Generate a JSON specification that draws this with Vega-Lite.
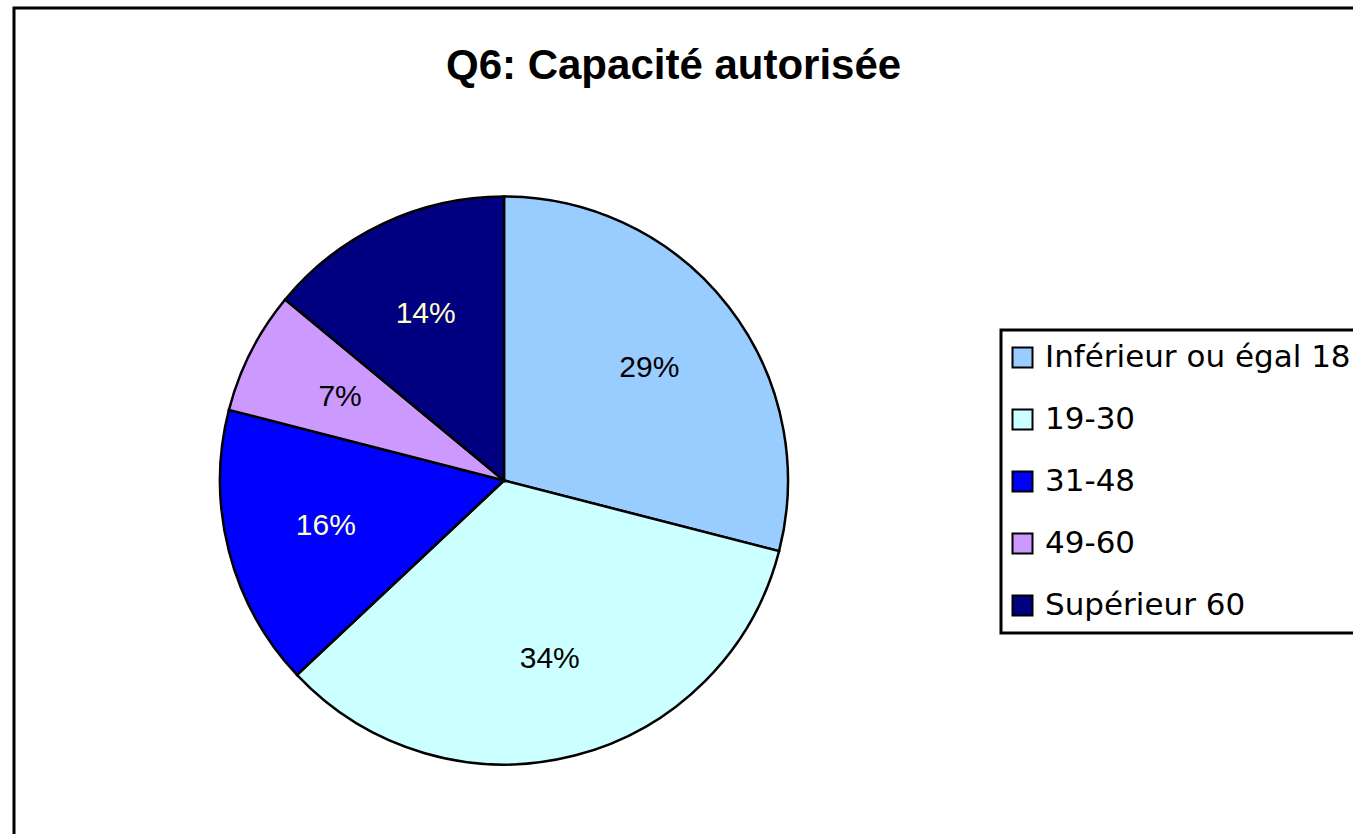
{
  "$schema": "https://vega.github.io/schema/vega-lite/v6.json",
  "autosize": {"type": "pad"},
  "padding": {"left": 12, "top": 6, "right": 0, "bottom": 0},
  "background": "white",
  "title": {
    "text": "Q6: Capacité autorisée",
    "font": "Liberation Sans",
    "fontSize": 42,
    "fontWeight": "bold",
    "color": "black",
    "anchor": "start",
    "frame": "group",
    "baseline": "bottom",
    "offset": -123.5,
    "dx": 432
  },
  "spacing": 0,
  "bounds": "flush",
  "hconcat": [
    {
      "width": 980,
      "height": 945,
      "view": {"stroke": "black", "strokeWidth": 3, "strokeDash": [980, 1925]},
      "data": {
        "values": [
          {"cat": "Inférieur ou égal 18", "pct": 29, "label": "29%", "rank": 1},
          {"cat": "19-30", "pct": 34, "label": "34%", "rank": 2},
          {"cat": "31-48", "pct": 16, "label": "16%", "rank": 3},
          {"cat": "49-60", "pct": 7, "label": "7%", "rank": 4},
          {"cat": "Supérieur 60", "pct": 14, "label": "14%", "rank": 5}
        ]
      },
      "encoding": {
        "theta": {"field": "pct", "type": "quantitative", "stack": true},
        "order": {"field": "rank", "type": "quantitative"}
      },
      "layer": [
        {
          "mark": {"type": "arc", "outerRadius": 284, "stroke": "black", "strokeWidth": 2.5},
          "encoding": {
            "color": {
              "field": "cat",
              "type": "nominal",
              "scale": {
                "domain": ["Inférieur ou égal 18", "19-30", "31-48", "49-60", "Supérieur 60"],
                "range": ["#99CCFF", "#CCFFFF", "#0000FF", "#CC99FF", "#000080"]
              },
              "legend": {
                "orient": "none",
                "legendX": 987,
                "legendY": 322,
                "title": null,
                "strokeColor": "black",
                "padding": 12,
                "labelFont": "DejaVu Sans",
                "labelFontSize": 31,
                "labelColor": "black",
                "labelLimit": 0,
                "labelOffset": 7,
                "symbolOffset": -6,
                "symbolType": "square",
                "symbolSize": 400,
                "symbolStrokeColor": "black",
                "symbolStrokeWidth": 2,
                "symbolOpacity": 1,
                "rowPadding": 30,
                "encode": {"legend": {"update": {"strokeWidth": {"value": 3}}}}
              }
            }
          }
        },
        {
          "mark": {"type": "text", "radius": 184, "font": "Liberation Sans", "fontSize": 30, "baseline": "middle", "align": "center"},
          "encoding": {
            "text": {"field": "label", "type": "nominal"},
            "color": {
              "condition": {"test": "datum.cat === '31-48' || datum.cat === 'Supérieur 60'", "value": "#FFFFCC"},
              "value": "black"
            }
          }
        }
      ]
    },
    {
      "width": 500,
      "height": 945,
      "view": {"stroke": "black", "strokeWidth": 3, "strokeDash": [500, 4000]},
      "data": {"values": []},
      "mark": "point",
      "encoding": {}
    }
  ]
}
